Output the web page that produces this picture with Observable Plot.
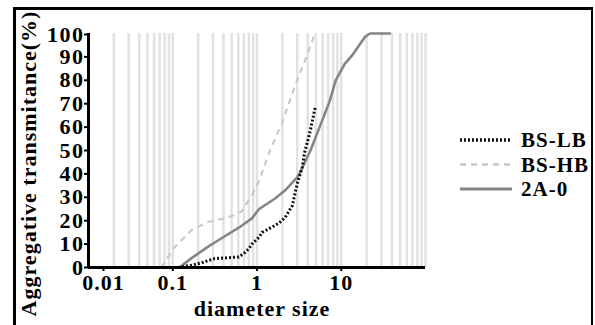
<!DOCTYPE html>
<html><head><meta charset="utf-8">
<script src="https://cdn.jsdelivr.net/npm/d3@7"></script>
<script src="https://cdn.jsdelivr.net/npm/@observablehq/plot@0.6"></script>
<style>
body{margin:0;background:#fff;}
#wrap{position:relative;width:595px;height:325px;overflow:hidden;background:#fff;}
#frame{position:absolute;left:13px;top:7px;width:580px;height:340px;border-top:3px solid #000;border-left:3px solid #000;border-right:2px solid #000;box-sizing:border-box;pointer-events:none;}
#legend{position:absolute;left:0;top:0;}
svg text{font-family:"Liberation Serif","Times New Roman",serif;font-weight:bold;}
g[aria-label="y-axis tick label"] text{letter-spacing:1.5px;}
g[aria-label="x-axis tick label"] text{letter-spacing:1px;}
g[aria-label="text"] text{letter-spacing:1px;}
#legend text{letter-spacing:1px;}
</style></head>
<body>
<div id="wrap"><div id="chart"></div><svg id="legend" width="595" height="325"></svg><div id="frame"></div></div>
<script>
// Series data (diameter size, aggregative transmitance %)
const hbX=[0.073,0.104,0.167,0.266,0.414,0.55,0.661,0.871,1.06,1.39,1.99,2.85,3.76,4.82];
const hbY=[0,8.5,16,19.5,21,22.5,24,31,37,49,62,78,89,99.5];
const a0X=[0.12,0.167,0.266,0.38,0.608,0.87,1.06,1.64,2.16,3.0,3.18,4.31,5.53,7.28,8.59,11,13.7,19.1,21.9,39];
const a0Y=[0,4,9,12.5,17,21,25,29.5,33,38.5,40,50,60,71,80,87,91,98.5,100,100];
const lbX=[0.116,0.137,0.167,0.219,0.314,0.502,0.61,0.72,0.80,0.87,1.06,1.15,1.64,1.83,2.16,2.63,3.01,3.46,3.66,4.2,4.95];
const lbY=[0,0.5,1,2,3.8,4.3,4.5,6.4,8,10,13,15,18,19,21.4,26.5,36,43,49,57,69];

const seriesNames=["BS-LB","BS-HB","2A-0"];
const xTicks=[0.01,0.1,1,10];
const xTickLabels=["0.01","0.1","1","10"];
const yTicks=[0,10,20,30,40,50,60,70,80,90,100];
const xTitle="diameter size";
const yTitle="Aggregative transmitance(%)";

const styles={
  "BS-LB":{stroke:"#111",strokeWidth:3,dash:"2,2"},
  "BS-HB":{stroke:"#c6c6c6",strokeWidth:2,dash:"6,5"},
  "2A-0":{stroke:"#858585",strokeWidth:2.6,dash:null}
};
const toRows=(xs,ys)=>xs.map((x,i)=>({x,y:ys[i]}));
const lb=toRows(lbX,lbY), hb=toRows(hbX,hbY), a0=toRows(a0X,a0Y);
const minor=d3.scaleLog().domain([0.01,100]).ticks().filter(d=>d>0.01);
const font="Liberation Serif";

const lineMark=(data,name)=>Plot.line(data,{x:"x",y:"y",stroke:styles[name].stroke,strokeWidth:styles[name].strokeWidth,strokeDasharray:styles[name].dash,strokeLinecap:"butt",strokeLinejoin:"miter",curve:"linear"});

const chart=Plot.plot({
  width:595,height:325,
  marginLeft:88,marginRight:170,marginTop:33,marginBottom:58,
  style:{fontFamily:font,fontWeight:"bold",fontSize:"22px",background:"transparent",color:"#000",overflow:"visible"},
  x:{type:"log",domain:[0.01,100]},
  y:{domain:[0,100]},
  marks:[
    Plot.ruleX(minor,{y1:0,y2:100,stroke:"#e2e2e2",strokeWidth:2.5}),
    lineMark(hb,"BS-HB"),
    lineMark(a0,"2A-0"),
    lineMark(lb,"BS-LB"),
    Plot.ruleY([0],{stroke:"#000",strokeWidth:3}),
    Plot.ruleX([0.01],{y1:0,y2:100,stroke:"#000",strokeWidth:3}),
    Plot.axisY(yTicks.filter(d=>d<100),{tickSize:4,tickPadding:0,label:null,tickFormat:d=>String(d),strokeWidth:2}),
    Plot.axisY([100],{tickSize:4,tickPadding:0,label:null,tickFormat:d=>String(d),strokeWidth:2,dy:1}),
    Plot.axisX(xTicks.slice(1),{tickSize:4,tickPadding:3,label:null,tickFormat:(d)=>xTickLabels[xTicks.indexOf(d)],strokeWidth:2}),
    Plot.axisX([0.01],{tickSize:4,tickPadding:3,label:null,tickFormat:()=>xTickLabels[0],strokeWidth:2,dx:15}),
    Plot.text([xTitle],{frameAnchor:"bottom",lineAnchor:"bottom",dy:48,dx:5,fontSize:22,fontWeight:"bold"}),
    Plot.text([yTitle],{frameAnchor:"left",textAnchor:"middle",rotate:-90,dx:-60,dy:13,fontSize:22,fontWeight:"bold"})
  ]
});
document.getElementById("chart").appendChild(chart);

// legend
const leg=d3.select("#legend");
seriesNames.forEach((name,i)=>{
  const y=140+i*24.5;
  const s=styles[name];
  leg.append("line").attr("x1",460).attr("x2",512).attr("y1",y).attr("y2",y)
    .attr("stroke",s.stroke).attr("stroke-width",s.strokeWidth+0.5).attr("stroke-dasharray",s.dash);
  leg.append("text").attr("x",521).attr("y",y+7).text(name)
    .attr("font-weight","bold").attr("font-size",21);
});
</script>
</body></html>
